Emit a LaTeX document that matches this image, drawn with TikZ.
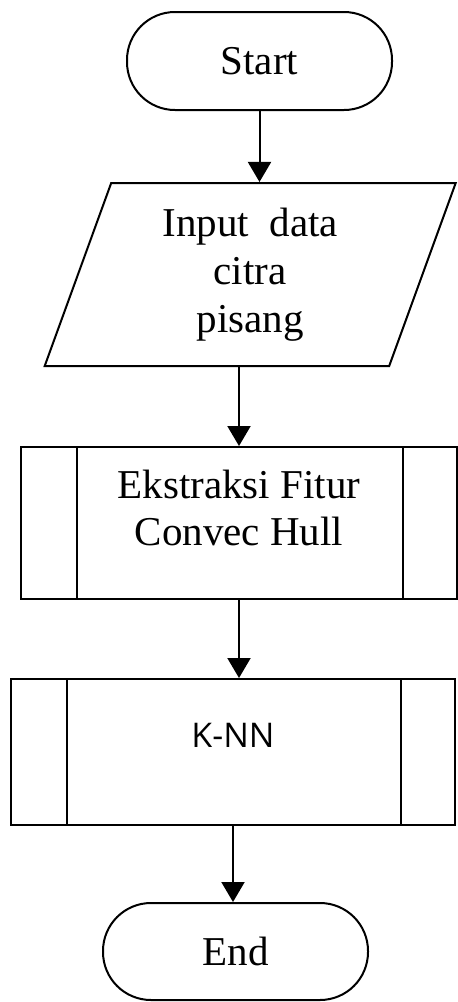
\documentclass[tikz,border=0pt]{standalone}
\usepackage{fontspec}
\setmainfont{Liberation Serif}
\newfontfamily\knnfont{Open Sans}
\usetikzlibrary{shapes,arrows.meta,positioning,calc}

\begin{document}
\begin{tikzpicture}[
    terminal/.style={rectangle, rounded corners=24pt, draw, line width=1pt,
                     minimum width=132.5pt, minimum height=49pt, font=\fontsize{20.5}{24}\selectfont},
    io/.style={trapezium, trapezium left angle=65.6, trapezium right angle=114.4,
               trapezium stretches body, draw, line width=1pt,
               minimum width=205.5pt, minimum height=91.5pt,
               align=center, font=\fontsize{20.5}{24}\selectfont},
    subproc/.style={rectangle, draw, line width=1pt,
                    path picture={
                      \draw[line width=1pt] ([xshift=28pt]path picture bounding box.north west)
                            -- ([xshift=28pt]path picture bounding box.south west);
                      \draw[line width=1pt] ([xshift=-27pt]path picture bounding box.north east)
                            -- ([xshift=-27pt]path picture bounding box.south east);}},
    caption/.style={align=center, inner sep=0pt, font=\fontsize{20.5}{23.5}\selectfont},
    arrow/.style={-{Triangle[width=11.5pt,length=10pt]}, line width=1pt}
]
\useasboundingbox (0,0) rectangle (229pt,-501pt);

% Start
\node[terminal] (start) at (129.75pt,-30.5pt) {Start};

% Input
\node[io] (input) at (125.1pt,-137.25pt) {Input\ \ data\\citra\\pisang};

% Ekstraksi fitur
\node[subproc, minimum width=218pt, minimum height=76pt] (ekstraksi) at (119.5pt,-261.5pt) {};
\node[caption] (ekstraksi-txt) at ([yshift=7.5pt]ekstraksi.center) {Ekstraksi Fitur\\Convec Hull};

% K-NN
\node[subproc, minimum width=222pt, minimum height=73pt] (knn) at (116.5pt,-376pt) {};
\node[caption, font=\knnfont\fontsize{17}{20}\selectfont] (knn-txt) at ([yshift=8.5pt]knn.center) {K-NN};

% End
\node[terminal, minimum height=48.5pt] (end) at (117.75pt,-475.75pt) {End};

% Arrows
\draw[arrow] (start.south) -- (start.south |- input.north);
\draw[arrow] (input.south -| ekstraksi.north) -- (ekstraksi.north);
\draw[arrow] (ekstraksi.south) -- (ekstraksi.south |- knn.north);
\draw[arrow] (knn.south) -- (knn.south |- end.north);

\end{tikzpicture}
\end{document}
